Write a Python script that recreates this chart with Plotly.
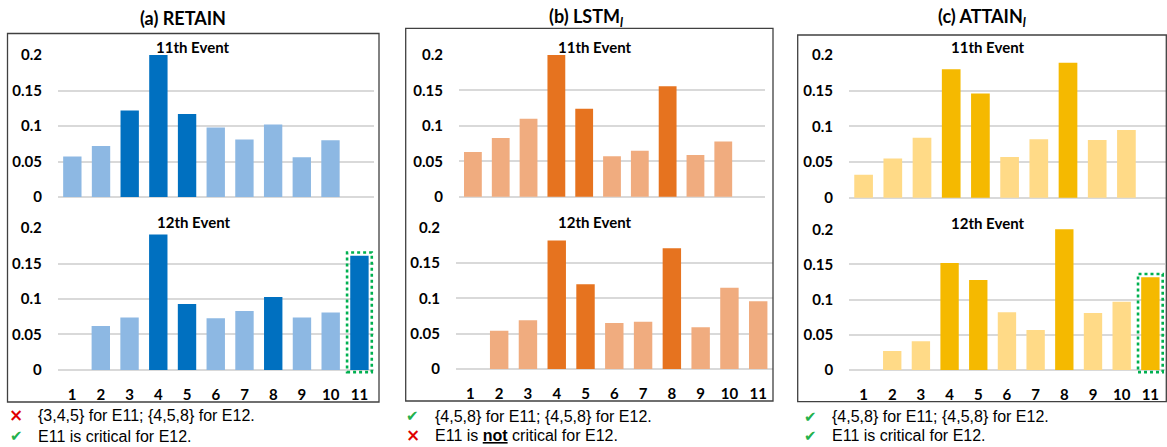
import plotly.graph_objects as go

W, H = 1167, 447

# ---------------- data ----------------
categories = ["1", "2", "3", "4", "5", "6", "7", "8", "9", "10", "11"]
y_tick_vals = [0, 0.05, 0.1, 0.15, 0.2]
y_tick_text = ["0", "0.05", "0.1", "0.15", "0.2"]

retain_e11 = [0.057, 0.072, 0.122, 0.200, 0.117, 0.098, 0.081, 0.102, 0.056, 0.080, 0]
retain_e12 = [0, 0.062, 0.074, 0.191, 0.093, 0.073, 0.083, 0.103, 0.074, 0.081, 0.161]
lstm_e11 = [0.063, 0.083, 0.110, 0.200, 0.124, 0.057, 0.065, 0.156, 0.059, 0.078, 0]
lstm_e12 = [0, 0.054, 0.069, 0.182, 0.120, 0.065, 0.067, 0.171, 0.059, 0.115, 0.096]
attain_e11 = [0.032, 0.055, 0.084, 0.180, 0.146, 0.057, 0.082, 0.189, 0.081, 0.095, 0]
attain_e12 = [0, 0.027, 0.041, 0.152, 0.128, 0.082, 0.057, 0.200, 0.081, 0.097, 0.132]

retain_e11_key = ["3", "4", "5"]
retain_e12_key = ["4", "5", "8", "11"]
lstm_e11_key = ["4", "5", "8"]
lstm_e12_key = ["4", "5", "8"]
attain_e11_key = ["4", "5", "8"]
attain_e12_key = ["4", "5", "8", "11"]

panel_titles = ["(a) RETAIN", "(b) LSTM<sub><i>l</i></sub>", "(c) ATTAIN<sub><i>l</i></sub>"]
event_titles = ["11th Event", "12th Event"]
highlight_event = ["11", None, "11"]  # category boxed in the 12th-event chart

notes = [
    [("x", "{3,4,5} for E11; {4,5,8} for E12."), ("v", "E11 is critical for E12.")],
    [("v", "{4,5,8} for E11; {4,5,8} for E12."), ("x", "E11 is <b><u>not</u></b> critical for E12.")],
    [("v", "{4,5,8} for E11; {4,5,8} for E12."), ("v", "E11 is critical for E12.")],
]

colors = [
    ("#0070C0", "#8DB8E3"),
    ("#E6731F", "#F0AC7F"),
    ("#F5B900", "#FFDA87"),
]

series = [
    (retain_e11, retain_e11_key, retain_e12, retain_e12_key),
    (lstm_e11, lstm_e11_key, lstm_e12, lstm_e12_key),
    (attain_e11, attain_e11_key, attain_e12, attain_e12_key),
]

# ---------------- layout geometry (pixels) ----------------
# per subplot: x-left, x-right, y of 0, y of 0.2, x range max
geo = [
    [(58, 373.5, 197, 55, 10.5), (57.7, 373.8, 370, 228, 10.5)],
    [(459, 765, 196.7, 55, 10.5), (456, 772.6, 369, 227.7, 10.5)],
    [(849, 1167, 197.7, 55, 10.39), (849.2, 1164.7, 370, 229.3, 10.5)],
]
boxes = [(7.5, 379, 33.5, 402), (405.7, 773, 28.3, 401), (797.7, 1166.3, 35, 401.7)]
title_pos = [(183, 18), (585.5, 18), (981.7, 18)]
event_pos = [[(192, 47), (193.5, 222)], [(594, 47), (594, 221.7)], [(987, 47), (987, 222.7)]]
note_pos = [(16, 36, 415, 436), (412.7, 432.7, 416, 435), (810, 829.7, 416.7, 435.7)]

YMIN, YMAX = -0.006, 0.2005


def px(x):
    return x / W


def py(y):
    return 1 - y / H


fig = go.Figure()
layout = dict(
    width=W, height=H, margin=dict(l=0, r=0, t=0, b=0, autoexpand=False),
    paper_bgcolor="white", plot_bgcolor="white", showlegend=False,
    bargap=0.36,
)
shapes = []
annotations = []
font_b = dict(family="Lato", color="#000000", size=15, weight="bold")

k = 0
for p in range(3):
    dark, light = colors[p]
    vals11, key11, vals12, key12 = series[p]
    for r, (vals, keys) in enumerate([(vals11, key11), (vals12, key12)]):
        k += 1
        xl, xr, y0p, y2p, xmax = geo[p][r]
        scale = (y0p - y2p) / 0.2
        bottom = y0p - YMIN * scale
        top = y0p - YMAX * scale
        fig.add_trace(go.Bar(
            x=categories, y=vals,
            marker=dict(color=[dark if c in keys else light for c in categories], line=dict(width=0)),
            width=0.64,
            xaxis=f"x{k}", yaxis=f"y{k}",
        ))
        xname = "xaxis" if k == 1 else f"xaxis{k}"
        yname = "yaxis" if k == 1 else f"yaxis{k}"
        layout[xname] = dict(
            domain=[px(xl), px(xr)], anchor=f"y{k}", type="category",
            range=[-0.5, xmax], showgrid=False, showline=False, zeroline=False,
            showticklabels=(r == 1), ticks="", ticklabelstandoff=10,
            tickangle=0, tickfont=font_b, fixedrange=True,
        )
        layout[yname] = dict(
            domain=[py(bottom), py(top)], anchor=f"x{k}",
            range=[YMIN, YMAX], tickvals=y_tick_vals, ticktext=y_tick_text,
            showgrid=True, gridcolor="#D9D9D9", gridwidth=1.5,
            zeroline=True, zerolinecolor="#D9D9D9", zerolinewidth=1.5,
            showline=False, ticks="outside", ticklen=12, tickcolor="rgba(0,0,0,0)",
            tickfont=font_b, fixedrange=True,
        )
        ex, ey = event_pos[p][r]
        annotations.append(dict(
            text=event_titles[r], x=px(ex), y=py(ey), xref="paper", yref="paper",
            xanchor="center", yanchor="middle", showarrow=False, font=font_b,
        ))
        if r == 1 and highlight_event[p] is not None:
            i = categories.index(highlight_event[p])
            shapes.append(dict(
                type="rect", xref=f"x{k}", yref=f"y{k}",
                x0=i - 0.43, x1=i + 0.43, y0=-0.003, y1=vals[i] + 0.0045,
                line=dict(color="#00B050", width=2.6, dash="dot"),
            ))
    # panel box
    bx0, bx1, by0, by1 = boxes[p]
    shapes.append(dict(
        type="rect", xref="paper", yref="paper",
        x0=px(bx0), x1=px(bx1), y0=py(by1), y1=py(by0),
        line=dict(color="#404040", width=1.3),
    ))
    tx, ty = title_pos[p]
    annotations.append(dict(
        text=panel_titles[p], x=px(tx), y=py(ty), xref="paper", yref="paper",
        xanchor="center", yanchor="middle", showarrow=False,
        font=dict(family="Lato", size=18, color="#000000", weight="bold"),
    ))
    mx, tx0, ly1, ly2 = note_pos[p]
    for (mark, txt), ly in zip(notes[p], [ly1, ly2]):
        if mark == "x":
            annotations.append(dict(
                text="×", x=px(mx), y=py(ly), xref="paper", yref="paper",
                xanchor="center", yanchor="middle", showarrow=False,
                font=dict(family="DejaVu Sans", size=17, color="#E00000", weight="bold"),
            ))
        else:
            annotations.append(dict(
                text="✔", x=px(mx), y=py(ly), xref="paper", yref="paper",
                xanchor="center", yanchor="middle", showarrow=False,
                font=dict(family="DejaVu Sans", size=15, color="#22B14C"),
            ))
        annotations.append(dict(
            text=txt, x=px(tx0), y=py(ly), xref="paper", yref="paper",
            xanchor="left", yanchor="middle", showarrow=False,
            font=dict(family="Liberation Sans", size=16, color="#000000"),
        ))

layout["shapes"] = shapes
layout["annotations"] = annotations
fig.update_layout(**layout)
fig.write_html(
    "out.html",
    config={"displayModeBar": False},
    post_script="document.body.style.margin='0';document.body.style.padding='0';",
)
